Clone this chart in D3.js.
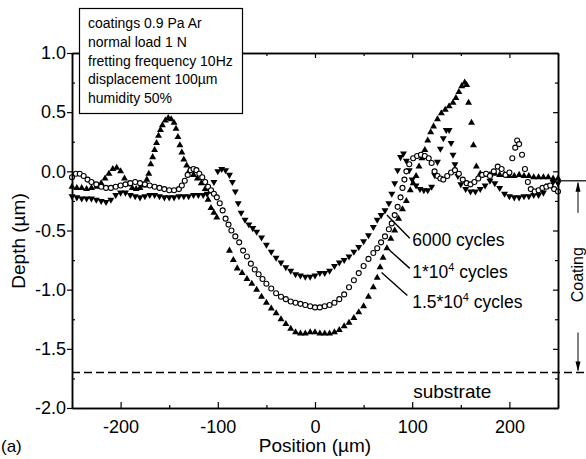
<!DOCTYPE html>
<html>
<head>
<meta charset="utf-8">
<script src="https://cdn.jsdelivr.net/npm/d3@7"></script>
<style>
  body { margin: 0; background: #fff; }
  text { font-family: "Liberation Sans", Arial, Helvetica, sans-serif; fill: #000; }
</style>
</head>
<body>
<div id="chart"></div>
<script>
// profile data: [position (um), depth (um)]
var cycles6000 = [[-250,-0.21],[-245,-0.22],[-240,-0.23],[-235,-0.23],[-230,-0.23],[-225,-0.24],[-220,-0.25],[-215,-0.26],[-210,-0.24],[-205,-0.20],[-200,-0.18],[-195,-0.18],[-190,-0.20],[-185,-0.21],[-180,-0.22],[-175,-0.21],[-170,-0.20],[-165,-0.20],[-160,-0.21],[-155,-0.22],[-150,-0.22],[-145,-0.22],[-140,-0.21],[-135,-0.21],[-130,-0.21],[-125,-0.20],[-120,-0.20],[-115,-0.20],[-111,-0.19],[-108,-0.16],[-104,-0.09],[-100,0.00],[-96,0.02],[-92,0.01],[-88,-0.03],[-85,-0.09],[-82,-0.17],[-79,-0.27],[-76,-0.35],[-72,-0.41],[-68,-0.45],[-64,-0.48],[-60,-0.51],[-55,-0.56],[-50,-0.62],[-45,-0.68],[-40,-0.73],[-35,-0.77],[-30,-0.81],[-25,-0.84],[-20,-0.87],[-15,-0.88],[-10,-0.89],[-5,-0.89],[0,-0.88],[5,-0.86],[10,-0.86],[15,-0.84],[20,-0.80],[25,-0.77],[30,-0.75],[35,-0.72],[40,-0.68],[45,-0.64],[50,-0.59],[55,-0.54],[60,-0.47],[64,-0.41],[68,-0.37],[72,-0.33],[76,-0.27],[79,-0.19],[82,-0.10],[85,0.01],[88,0.12],[91,0.15],[94,0.09],[97,0.01],[100,-0.07],[104,-0.12],[108,-0.15],[112,-0.16],[116,-0.16],[120,-0.13],[123,-0.03],[126,0.08],[129,0.19],[132,0.28],[135,0.35],[138,0.35],[140,0.24],[142,0.14],[144,0.06],[147,-0.04],[150,-0.11],[155,-0.15],[160,-0.17],[165,-0.17],[170,-0.15],[175,-0.12],[180,-0.08],[185,-0.10],[190,-0.14],[195,-0.19],[200,-0.21],[205,-0.22],[210,-0.22],[215,-0.21],[220,-0.21],[225,-0.20],[230,-0.20],[235,-0.18],[240,-0.12],[245,-0.09],[250,-0.10]];

var cycles1e4 = [[-250,-0.05],[-246,-0.02],[-242,-0.02],[-238,-0.04],[-234,-0.07],[-230,-0.09],[-225,-0.11],[-220,-0.13],[-215,-0.14],[-210,-0.14],[-205,-0.13],[-200,-0.12],[-195,-0.11],[-190,-0.10],[-185,-0.09],[-180,-0.10],[-175,-0.11],[-170,-0.12],[-165,-0.13],[-160,-0.14],[-155,-0.15],[-150,-0.16],[-145,-0.16],[-140,-0.15],[-137,-0.12],[-134,-0.08],[-131,-0.03],[-128,0.01],[-125,0.02],[-122,0.01],[-119,-0.02],[-116,-0.05],[-113,-0.09],[-110,-0.13],[-107,-0.16],[-104,-0.19],[-101,-0.22],[-98,-0.27],[-95,-0.33],[-92,-0.40],[-89,-0.45],[-86,-0.50],[-82,-0.55],[-78,-0.60],[-74,-0.67],[-70,-0.72],[-66,-0.78],[-62,-0.83],[-58,-0.87],[-54,-0.91],[-50,-0.95],[-45,-0.99],[-40,-1.03],[-35,-1.06],[-30,-1.08],[-25,-1.10],[-20,-1.11],[-15,-1.12],[-10,-1.13],[-5,-1.14],[0,-1.15],[5,-1.15],[10,-1.14],[15,-1.13],[20,-1.11],[25,-1.08],[30,-1.04],[35,-0.98],[40,-0.92],[45,-0.86],[50,-0.80],[55,-0.74],[60,-0.69],[64,-0.65],[68,-0.60],[72,-0.55],[76,-0.49],[79,-0.44],[82,-0.37],[85,-0.30],[88,-0.22],[90,-0.14],[92,-0.07],[94,0.00],[97,0.06],[101,0.11],[105,0.13],[109,0.14],[113,0.13],[117,0.11],[120,0.07],[123,0.00],[126,-0.04],[129,-0.06],[132,-0.07],[136,-0.04],[140,-0.01],[144,0.01],[148,-0.02],[152,-0.07],[156,-0.10],[160,-0.11],[164,-0.09],[168,-0.06],[172,-0.03],[176,-0.02],[180,-0.04],[184,0.00],[188,0.04],[192,0.02],[196,-0.03],[200,-0.01],[203,0.11],[206,0.20],[208,0.26],[210,0.23],[213,0.14],[216,0.02],[219,-0.09],[222,-0.15],[226,-0.17],[230,-0.16],[234,-0.14],[238,-0.13],[242,-0.12],[246,-0.15],[250,-0.17]];

var cycles15e3 = [[-250,-0.13],[-245,-0.14],[-240,-0.14],[-235,-0.15],[-230,-0.14],[-225,-0.13],[-220,-0.10],[-216,-0.06],[-212,-0.02],[-208,0.02],[-204,0.03],[-200,0.00],[-196,-0.06],[-192,-0.11],[-188,-0.14],[-184,-0.15],[-180,-0.14],[-176,-0.12],[-173,-0.07],[-171,-0.02],[-169,0.06],[-167,0.12],[-165,0.18],[-163,0.24],[-161,0.30],[-159,0.35],[-157,0.39],[-154,0.43],[-151,0.45],[-148,0.44],[-145,0.41],[-143,0.36],[-141,0.29],[-139,0.22],[-137,0.16],[-135,0.10],[-132,0.05],[-129,0.01],[-125,-0.03],[-121,-0.06],[-117,-0.10],[-113,-0.15],[-110,-0.24],[-107,-0.31],[-104,-0.35],[-101,-0.39],[-88,-0.67],[-84,-0.75],[-80,-0.82],[-75,-0.86],[-70,-0.91],[-65,-0.95],[-60,-1.00],[-55,-1.06],[-50,-1.11],[-45,-1.16],[-40,-1.20],[-35,-1.25],[-30,-1.29],[-25,-1.33],[-20,-1.36],[-15,-1.37],[-10,-1.37],[-5,-1.36],[0,-1.36],[5,-1.37],[10,-1.37],[15,-1.37],[20,-1.36],[25,-1.34],[30,-1.31],[35,-1.28],[40,-1.24],[45,-1.19],[50,-1.14],[55,-1.06],[60,-0.98],[64,-0.90],[67,-0.81],[70,-0.73],[74,-0.65],[78,-0.57],[82,-0.50],[86,-0.40],[90,-0.32],[94,-0.25],[98,-0.16],[101,-0.10],[104,-0.04],[107,0.04],[110,0.11],[113,0.18],[116,0.26],[119,0.33],[122,0.38],[126,0.44],[130,0.49],[134,0.52],[138,0.55],[142,0.58],[145,0.62],[148,0.67],[151,0.72],[154,0.75],[156,0.73],[158,0.58],[161,0.41],[163,0.22],[166,0.04],[170,-0.02],[175,-0.03],[180,-0.03],[185,-0.02],[190,-0.03],[195,-0.03],[200,-0.04],[205,-0.04],[210,-0.03],[215,-0.04],[220,-0.04],[225,-0.05],[230,-0.05],[235,-0.05],[240,-0.05],[245,-0.06],[250,-0.06]];

// tick values
var xMajorTicks = [-200, -100, 0, 100, 200];
var xMinorTicks = [-250, -150, -50, 50, 150, 250];
var yMajorTicks = [-2.0, -1.5, -1.0, -0.5, 0.0, 0.5, 1.0];
var yMinorTicks = [-1.75, -1.25, -0.75, -0.25, 0.25, 0.75];

// test conditions in the box
var conditions = ["coatings 0.9 Pa Ar", "normal load 1 N", "fretting frequency 10Hz", "displacement 100\u00b5m", "humidity 50%"];

// curve labels: text, superscript base, leader start, leader end, text anchor (data coords)
var curveLabels = [
  {text: "6000 cycles", base: "", from: [74, -0.37], to: [97.5, -0.565], at: [100, -0.63]},
  {text: " cycles", base: "1*10", from: [76.5, -0.665], to: [97.5, -0.82], at: [100, -0.90]},
  {text: " cycles", base: "1.5*10", from: [68.5, -0.855], to: [95, -1.05], at: [100, -1.155]}
];

var substrateDepth = -1.7;
var coatingTop = -0.08;

var width = 586,
    height = 459;

var margin = {top: 53, right: 28, bottom: 51, left: 72};

var svg = d3.select("#chart")
  .append("svg")
  .attr("width", width)
  .attr("height", height);

var x = d3.scaleLinear()
  .domain([-250, 250])
  .range([margin.left, width - margin.right]);

var y = d3.scaleLinear()
  .domain([-2, 1])
  .range([height - margin.bottom, margin.top]);

var fmt = function(d) { return d3.format(".1f")(d).replace("\u2212", "-"); };

// substrate dashed line, runs past the frame to the right edge
svg.append("line")
  .attr("x1", x(-250))
  .attr("x2", width)
  .attr("y1", y(substrateDepth))
  .attr("y2", y(substrateDepth))
  .attr("stroke", "#000")
  .attr("stroke-width", 1.3)
  .attr("stroke-dasharray", "8,4");

// series markers
var tri = d3.symbol().type(d3.symbolTriangle).size(21);

svg.append("g")
  .selectAll("path")
  .data(cycles15e3)
  .enter().append("path")
  .attr("d", tri)
  .attr("transform", function(d) { return "translate(" + x(d[0]) + "," + y(d[1]) + ")"; })
  .attr("fill", "#000");

svg.append("g")
  .selectAll("path")
  .data(cycles6000)
  .enter().append("path")
  .attr("d", tri)
  .attr("transform", function(d) { return "translate(" + x(d[0]) + "," + y(d[1]) + ") rotate(180)"; })
  .attr("fill", "#000");

svg.append("g")
  .selectAll("circle")
  .data(cycles1e4)
  .enter().append("circle")
  .attr("cx", function(d) { return x(d[0]); })
  .attr("cy", function(d) { return y(d[1]); })
  .attr("r", 2.5)
  .attr("fill", "#fff")
  .attr("stroke", "#000")
  .attr("stroke-width", 1.1);

// axes
function styleAxis(g) {
  g.selectAll(".domain").attr("stroke-width", 1.5);
  g.selectAll(".tick line").attr("stroke-width", 1.2);
  g.selectAll("text").attr("font-size", 18).attr("font-family", null);
}

svg.append("g")
  .attr("transform", "translate(0," + y(-2) + ")")
  .call(d3.axisBottom(x).tickValues(xMajorTicks).tickSize(-6).tickSizeOuter(0).tickPadding(12).tickFormat(d3.format("d")))
  .call(styleAxis)
  .selectAll("text").text(function(d) { return String(d); });

svg.append("g")
  .attr("transform", "translate(0," + y(-2) + ")")
  .call(d3.axisBottom(x).tickValues(xMinorTicks).tickSize(-3).tickSizeOuter(0).tickFormat(""))
  .call(styleAxis);

svg.append("g")
  .attr("transform", "translate(0," + y(1) + ")")
  .call(d3.axisTop(x).tickValues(xMajorTicks).tickSize(-5).tickSizeOuter(0).tickFormat(""))
  .call(styleAxis);

svg.append("g")
  .attr("transform", "translate(0," + y(1) + ")")
  .call(d3.axisTop(x).tickValues(xMinorTicks).tickSize(-3).tickSizeOuter(0).tickFormat(""))
  .call(styleAxis);

svg.append("g")
  .attr("transform", "translate(" + x(-250) + ",0)")
  .call(d3.axisLeft(y).tickValues(yMajorTicks).tickSize(5).tickSizeOuter(0).tickPadding(1).tickFormat(fmt))
  .call(styleAxis);

svg.append("g")
  .attr("transform", "translate(" + x(-250) + ",0)")
  .call(d3.axisLeft(y).tickValues(yMinorTicks).tickSize(-3).tickSizeOuter(0).tickFormat(""))
  .call(styleAxis);

svg.append("g")
  .attr("transform", "translate(" + x(250) + ",0)")
  .call(d3.axisRight(y).tickValues(yMajorTicks).tickSize(-5).tickSizeOuter(0).tickFormat(""))
  .call(styleAxis);

svg.append("g")
  .attr("transform", "translate(" + x(250) + ",0)")
  .call(d3.axisRight(y).tickValues(yMinorTicks).tickSize(-3).tickSizeOuter(0).tickFormat(""))
  .call(styleAxis);

// axis titles
svg.append("text")
  .attr("x", x(0))
  .attr("y", 452)
  .attr("text-anchor", "middle")
  .attr("font-size", 19)
  .text("Position (\u00b5m)");

svg.append("text")
  .attr("transform", "translate(25,241) rotate(-90)")
  .attr("text-anchor", "middle")
  .attr("font-size", 19)
  .text("Depth (\u00b5m)");

// panel letter in the bottom-left corner
svg.append("text")
  .attr("x", 1)
  .attr("y", 452)
  .attr("font-size", 17)
  .text("(a)");

// condition box
var box = svg.append("g");
box.append("rect")
  .attr("x", 79.5)
  .attr("y", 8.5)
  .attr("width", 163)
  .attr("height", 105)
  .attr("fill", "#fff")
  .attr("stroke", "#000")
  .attr("stroke-width", 1.2);

box.selectAll("text")
  .data(conditions)
  .enter().append("text")
  .attr("x", 88)
  .attr("y", function(d, i) { return 28 + i * 18.8; })
  .attr("font-size", 14)
  .text(function(d) { return d; });

// curve labels with leader lines
curveLabels.forEach(function(c) {
  svg.append("line")
    .attr("x1", x(c.from[0])).attr("y1", y(c.from[1]))
    .attr("x2", x(c.to[0])).attr("y2", y(c.to[1]))
    .attr("stroke", "#000")
    .attr("stroke-width", 1.4);

  var t = svg.append("text")
    .attr("x", x(c.at[0]))
    .attr("y", y(c.at[1]))
    .attr("font-size", 17.5);
  if (c.base) {
    t.append("tspan").text(c.base);
    t.append("tspan").attr("dy", -7).attr("font-size", 11).text("4");
    t.append("tspan").attr("dy", 7).text(c.text);
  } else {
    t.text(c.text);
  }
});

svg.append("text")
  .attr("x", x(101))
  .attr("y", y(-1.915))
  .attr("font-size", 19)
  .text("substrate");

// coating thickness marker on the right
svg.append("line")
  .attr("x1", x(250)).attr("x2", width)
  .attr("y1", y(coatingTop)).attr("y2", y(coatingTop))
  .attr("stroke", "#000").attr("stroke-width", 1.2);

var ax = 578;
var topY = y(coatingTop), botY = y(substrateDepth);

svg.append("line")
  .attr("x1", ax).attr("x2", ax)
  .attr("y1", topY + 2).attr("y2", topY + 32)
  .attr("stroke", "#000").attr("stroke-width", 1);
svg.append("line")
  .attr("x1", ax).attr("x2", ax)
  .attr("y1", botY - 40).attr("y2", botY - 2)
  .attr("stroke", "#000").attr("stroke-width", 1);
svg.append("path")
  .attr("d", "M" + ax + "," + (topY + 1) + "L" + (ax - 2.5) + "," + (topY + 11) + "L" + (ax + 2.5) + "," + (topY + 11) + "Z")
  .attr("fill", "#000");
svg.append("path")
  .attr("d", "M" + ax + "," + (botY - 1) + "L" + (ax - 2.5) + "," + (botY - 11) + "L" + (ax + 2.5) + "," + (botY - 11) + "Z")
  .attr("fill", "#000");

svg.append("text")
  .attr("transform", "translate(583," + ((topY + botY) / 2 - 2) + ") rotate(-90)")
  .attr("text-anchor", "middle")
  .attr("font-size", 16)
  .text("Coating");
</script>
</body>
</html>
